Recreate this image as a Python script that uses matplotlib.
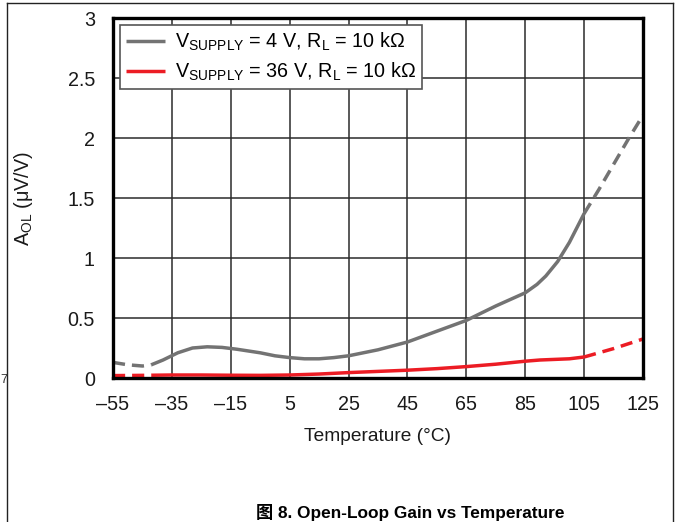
import matplotlib
matplotlib.use("Agg")
import matplotlib.pyplot as plt
from matplotlib.lines import Line2D
import numpy as np

plt.rcParams["font.family"] = ["Liberation Sans", "DejaVu Sans"]
plt.rcParams["mathtext.fontset"] = "custom"
plt.rcParams["mathtext.rm"] = "Liberation Sans"
plt.rcParams["mathtext.it"] = "Liberation Sans:italic"

# values
gray_temp = [-55, -50, -45, -42, -38, -33, -28, -23, -18, -13, -5, 0, 5, 10, 15, 20,
             25, 35, 45, 55, 65, 75, 85, 89, 92, 96, 100, 105, 110, 115, 120, 125]
gray_aol = [0.13, 0.11, 0.10, 0.11, 0.15, 0.21, 0.25, 0.26, 0.255, 0.24, 0.21, 0.185,
            0.17, 0.16, 0.16, 0.17, 0.185, 0.235, 0.30, 0.39, 0.48, 0.60, 0.71, 0.78,
            0.85, 0.97, 1.13, 1.37, 1.57, 1.78, 1.99, 2.19]
red_temp = [-55, -45, -42, -35, -25, -15, -5, 5, 15, 25, 35, 45, 55, 65, 75, 85, 90,
            95, 100, 105, 110, 115, 120, 125]
red_aol = [0.02, 0.022, 0.023, 0.025, 0.025, 0.023, 0.022, 0.025, 0.033, 0.045, 0.055,
           0.065, 0.078, 0.095, 0.115, 0.14, 0.15, 0.155, 0.16, 0.175, 0.21, 0.245,
           0.285, 0.325]
# outside this range the curves are drawn dashed
solid_range = (-42, 105)

gray_label = r"V$_{\mathrm{SUPPLY}}$ = 4 V, R$_{\mathrm{L}}$ = 10 kΩ"
red_label = r"V$_{\mathrm{SUPPLY}}$ = 36 V, R$_{\mathrm{L}}$ = 10 kΩ"
x_ticks = [-55, -35, -15, 5, 25, 45, 65, 85, 105, 125]
x_tick_labels = ["–55", "–35", "–15", "5", "25", "45", "65", "85", "105", "125"]
y_ticks = [0, 0.5, 1, 1.5, 2, 2.5, 3]
y_tick_labels = ["0", "0.5", "1", "1.5", "2", "2.5", "3"]

GRAY = "#737373"
RED = "#ec1c24"
FS = 14.2


def plot_series(ax, temp, vals, color, label):
    t = np.array(temp, dtype=float)
    v = np.array(vals, dtype=float)
    lo, hi = solid_range
    mid = (t >= lo) & (t <= hi)
    left = t <= lo
    right = t >= hi
    kw = dict(color=color, lw=2.5, solid_capstyle="butt", dash_capstyle="butt")
    ax.plot(t[mid], v[mid], label=label, **kw)
    ax.plot(t[left], v[left], ls=(0, (3.5, 2)), **kw)
    ax.plot(t[right], v[right], ls=(0, (3.5, 2)), **kw)


fig = plt.figure(figsize=(6.81, 5.22), dpi=100)
ax = fig.add_axes([113 / 681, 1 - 378 / 522, 530 / 681, 360 / 522])

plot_series(ax, gray_temp, gray_aol, GRAY, gray_label)
plot_series(ax, red_temp, red_aol, RED, red_label)

ax.set_xlim(-55, 125)
ax.set_ylim(0, 3)
ax.set_xticks(x_ticks, x_tick_labels)
ax.set_yticks(y_ticks, y_tick_labels)
ax.tick_params(length=0, labelsize=FS, colors="#1a1a1a")
ax.tick_params(axis="x", pad=12)
ax.tick_params(axis="y", pad=13)
ax.grid(True, color="#2b2b2b", lw=1.1)
ax.set_axisbelow(True)
for sp in ax.spines.values():
    sp.set_linewidth(2.4)
    sp.set_color("black")

ax.set_xlabel("Temperature (°C)", fontsize=13.8, labelpad=10, color="#1a1a1a")
ax.set_ylabel(r"A$_{\mathrm{OL}}$ (μV/V)", fontsize=FS, color="#1a1a1a")
ax.yaxis.set_label_coords(-0.147, 0.5)

leg = ax.legend(loc="upper left", bbox_to_anchor=(0.0, 1.0), fontsize=FS,
                frameon=True, fancybox=False, framealpha=1, edgecolor="#555555",
                handlelength=2.0, handletextpad=0.5, borderpad=0.3,
                labelspacing=0.4, borderaxespad=0.35)
leg.get_frame().set_linewidth(1.2)

# outer frame of the page figure
for xs, ys in [((7 / 681, 7 / 681), (0, 1 - 3 / 522)),
               ((7 / 681, 673 / 681), (1 - 3 / 522, 1 - 3 / 522)),
               ((673 / 681, 673 / 681), (0, 1 - 3 / 522))]:
    fig.add_artist(Line2D(xs, ys, color="#222222", lw=1.0, transform=fig.transFigure))

fig.text(0.5 / 681, 1 - 380 / 522, "7", fontsize=9, va="center", ha="left",
         color="#333333")
fig.text(410 / 681, 4 / 522, "图 8. Open-Loop Gain vs Temperature", ha="center",
         va="baseline", fontsize=12.4, fontweight="bold",
         family=["Liberation Sans", "Noto Sans CJK SC"])

fig.savefig("out.png", dpi=100)
